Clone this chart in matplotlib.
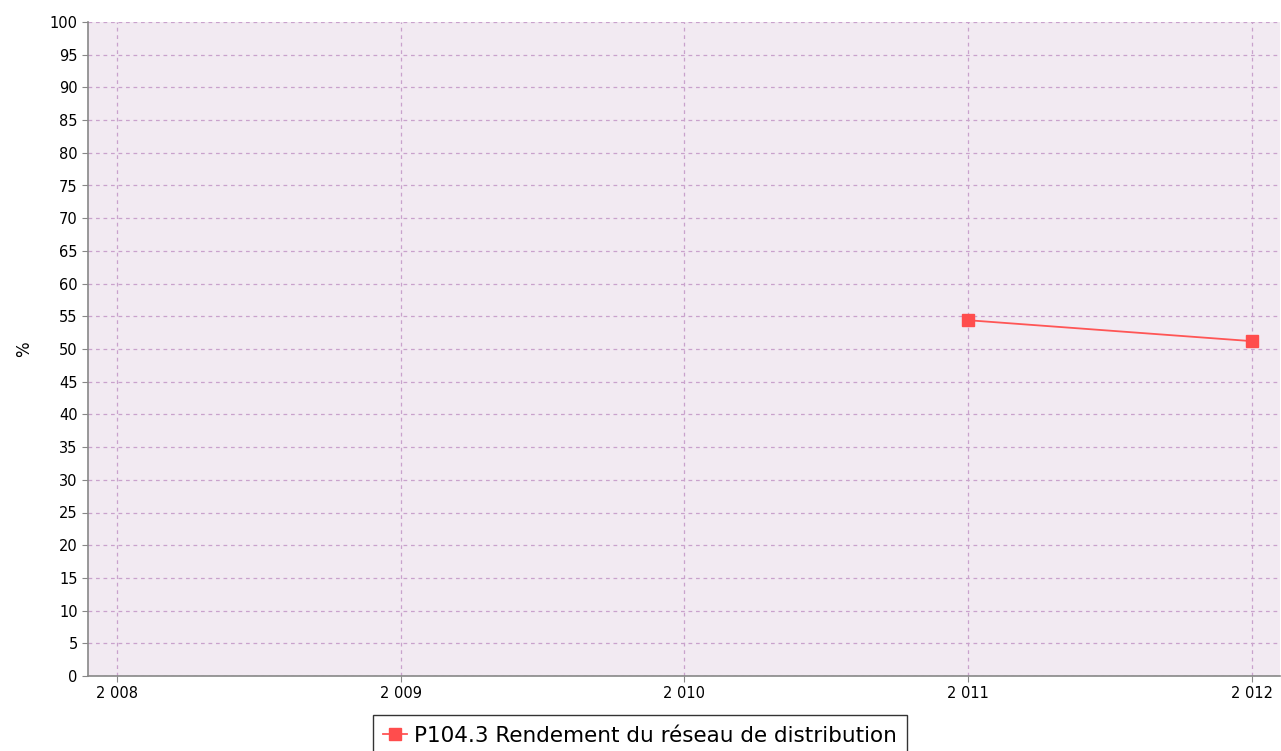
import matplotlib
matplotlib.use("Agg")
import matplotlib.pyplot as plt

# data
years = [2011, 2012]
rendement = [54.4, 51.2]
year_ticks = [2008, 2009, 2010, 2011, 2012]
year_labels = ["2 008", "2 009", "2 010", "2 011", "2 012"]
y_ticks = list(range(0, 101, 5))
series_name = "P104.3 Rendement du réseau de distribution"

fig = plt.figure(figsize=(12.81, 7.51), dpi=100)
ax = fig.add_axes([88 / 1281, 75 / 751, 1192 / 1281, 654 / 751])
ax.set_facecolor("#f2eaf2")

ax.plot(years, rendement, color="#ff5555", lw=1.3, marker="s", ms=9,
        markerfacecolor="#ff4d4d", markeredgecolor="#ff4d4d", label=series_name,
        zorder=3)

ax.set_xlim(2007.898, 2012.099)
ax.set_ylim(0, 100)
ax.set_xticks(year_ticks)
ax.set_xticklabels(year_labels)
ax.set_yticks(y_ticks)
ax.tick_params(labelsize=10.5, length=4, color="#888888")
ax.grid(True, color="#c9a2cc", ls=(0, (3, 3)), lw=0.9)
ax.set_axisbelow(True)

for s in ["top", "right"]:
    ax.spines[s].set_visible(False)
for s in ["left", "bottom"]:
    ax.spines[s].set_color("#888888")
    ax.spines[s].set_linewidth(1.2)

ax.set_ylabel("%", fontsize=12)
ax.yaxis.set_label_coords(-55 / 1192, 0.5)

fig.legend(loc="upper center", bbox_to_anchor=(640 / 1281, 1 - 715 / 751),
           fontsize=15.5, frameon=True, fancybox=False, edgecolor="black",
           handlelength=1.1, handletextpad=0.3, borderpad=0.5, borderaxespad=0)

fig.savefig("out.png", dpi=100)
